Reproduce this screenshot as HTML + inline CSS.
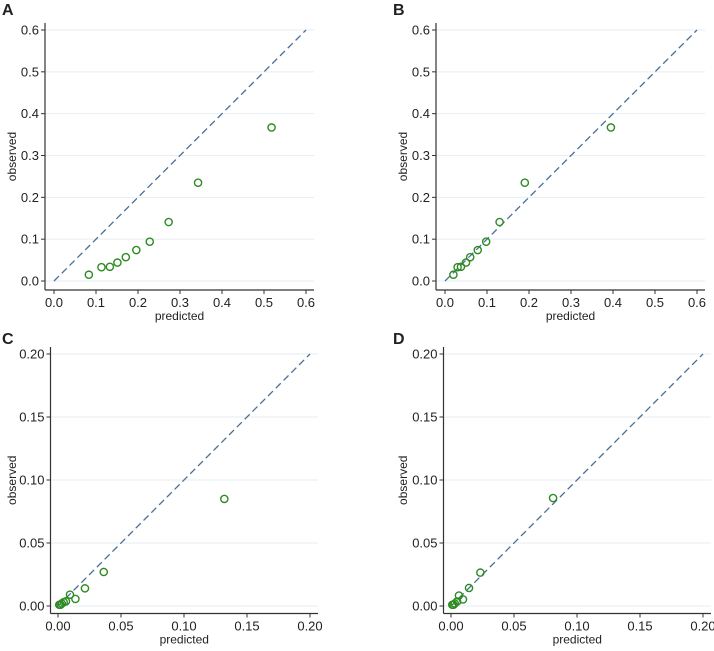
<!DOCTYPE html>
<html><head><meta charset="utf-8"><style>
body{margin:0;background:#fff}
svg text{font-family:"Liberation Sans",sans-serif;fill:#222}
</style></head><body>
<svg id="c" width="714" height="646"></svg>
<script>
const aPred=[0.083,0.113,0.133,0.151,0.171,0.196,0.228,0.273,0.343,0.518];
const aObs=[0.015,0.033,0.034,0.044,0.057,0.074,0.094,0.141,0.235,0.367];
const bPred=[0.020,0.030,0.038,0.050,0.060,0.078,0.098,0.130,0.190,0.395];
const bObs=[0.015,0.033,0.034,0.044,0.057,0.074,0.094,0.141,0.235,0.367];
const cPred=[0.001,0.002,0.003,0.0045,0.0063,0.0095,0.0138,0.0214,0.0363,0.132];
const cObs=[0.001,0.001,0.002,0.003,0.0037,0.009,0.0056,0.014,0.027,0.085];
const dPred=[0.001,0.002,0.003,0.0048,0.0063,0.0095,0.0143,0.0233,0.081];
const dObs=[0.001,0.001,0.002,0.0035,0.0083,0.0052,0.0143,0.0265,0.0857];
const ticksBig=["0.0","0.1","0.2","0.3","0.4","0.5","0.6"];
const ticksSmall=["0.00","0.05","0.10","0.15","0.20"];
const NS="http://www.w3.org/2000/svg";
const svg=document.getElementById('c');
function mk(t,a,p){const e=document.createElementNS(NS,t);for(const k in a)e.setAttribute(k,a[k]);(p||svg).appendChild(e);return e;}
function panel(letter,ox,oy,lblY,pad,x0,x1,y0,y1,max,ticks,px,py){
  const g=mk('g',{});
  
  
  const sx=v=>x0+(x1-x0)*v/max, sy=v=>y0-(y0-y1)*v/max;
  const L=x0-pad,B=y0+pad,R=x1+8,T=y1-7;
  ticks.forEach(t=>{const v=parseFloat(t);
    const gl=mk('line',{x1:L,x2:R,y1:sy(v),y2:sy(v),stroke:'#e6eef2','stroke-width':1},g);
    
    mk('line',{x1:L-4,x2:L,y1:sy(v),y2:sy(v),stroke:'#333'},g);
    const yl=mk('text',{x:L-6,y:sy(v)+4.5,'text-anchor':'end','font-size':13},g);yl.textContent=t;
    
    mk('line',{x1:sx(v),x2:sx(v),y1:B,y2:B+4,stroke:'#333'},g);
    const xl=mk('text',{x:sx(v),y:B+17,'text-anchor':'middle','font-size':13},g);xl.textContent=t;
    
  });
  mk('line',{x1:L,x2:L,y1:T,y2:B,stroke:'#333','stroke-width':1.2},g);
  mk('line',{x1:L,x2:R,y1:B,y2:B,stroke:'#333','stroke-width':1.2},g);
  const d=mk('line',{x1:sx(0),y1:sy(0),x2:sx(max),y2:sy(max),stroke:'#4a6e96','stroke-width':1.3,'stroke-dasharray':'7,4'},g);
  
  px.forEach((v,i)=>{const c=mk('circle',{cx:sx(v),cy:sy(py[i]),r:3.6,fill:'none',stroke:'#2e8b22','stroke-width':1.4},g);
    });
  const xt=mk('text',{x:(L+R)/2,y:B+30,'text-anchor':'middle','font-size':12},g);xt.textContent='predicted';
  
  const yt=mk('text',{x:0,y:0,'text-anchor':'middle','font-size':12,transform:`translate(${ox+16},${(T+B)/2}) rotate(-90)`},g);yt.textContent='observed';
  
  const lt=mk('text',{x:ox+2,y:lblY,'font-size':16,'font-weight':'bold'},g);lt.textContent=letter;
  
}
panel('A',0,0,15,9,54,306,281,30,0.6,ticksBig,aPred,aObs);
panel('B',391,0,15,9,445,697,281,30,0.6,ticksBig,bPred,bObs);
panel('C',0,326,344,7.5,58,310,606,354,0.2,ticksSmall,cPred,cObs);
panel('D',391,326,344,7.5,451,703,606,354,0.2,ticksSmall,dPred,dObs);
</script>
</body></html>
